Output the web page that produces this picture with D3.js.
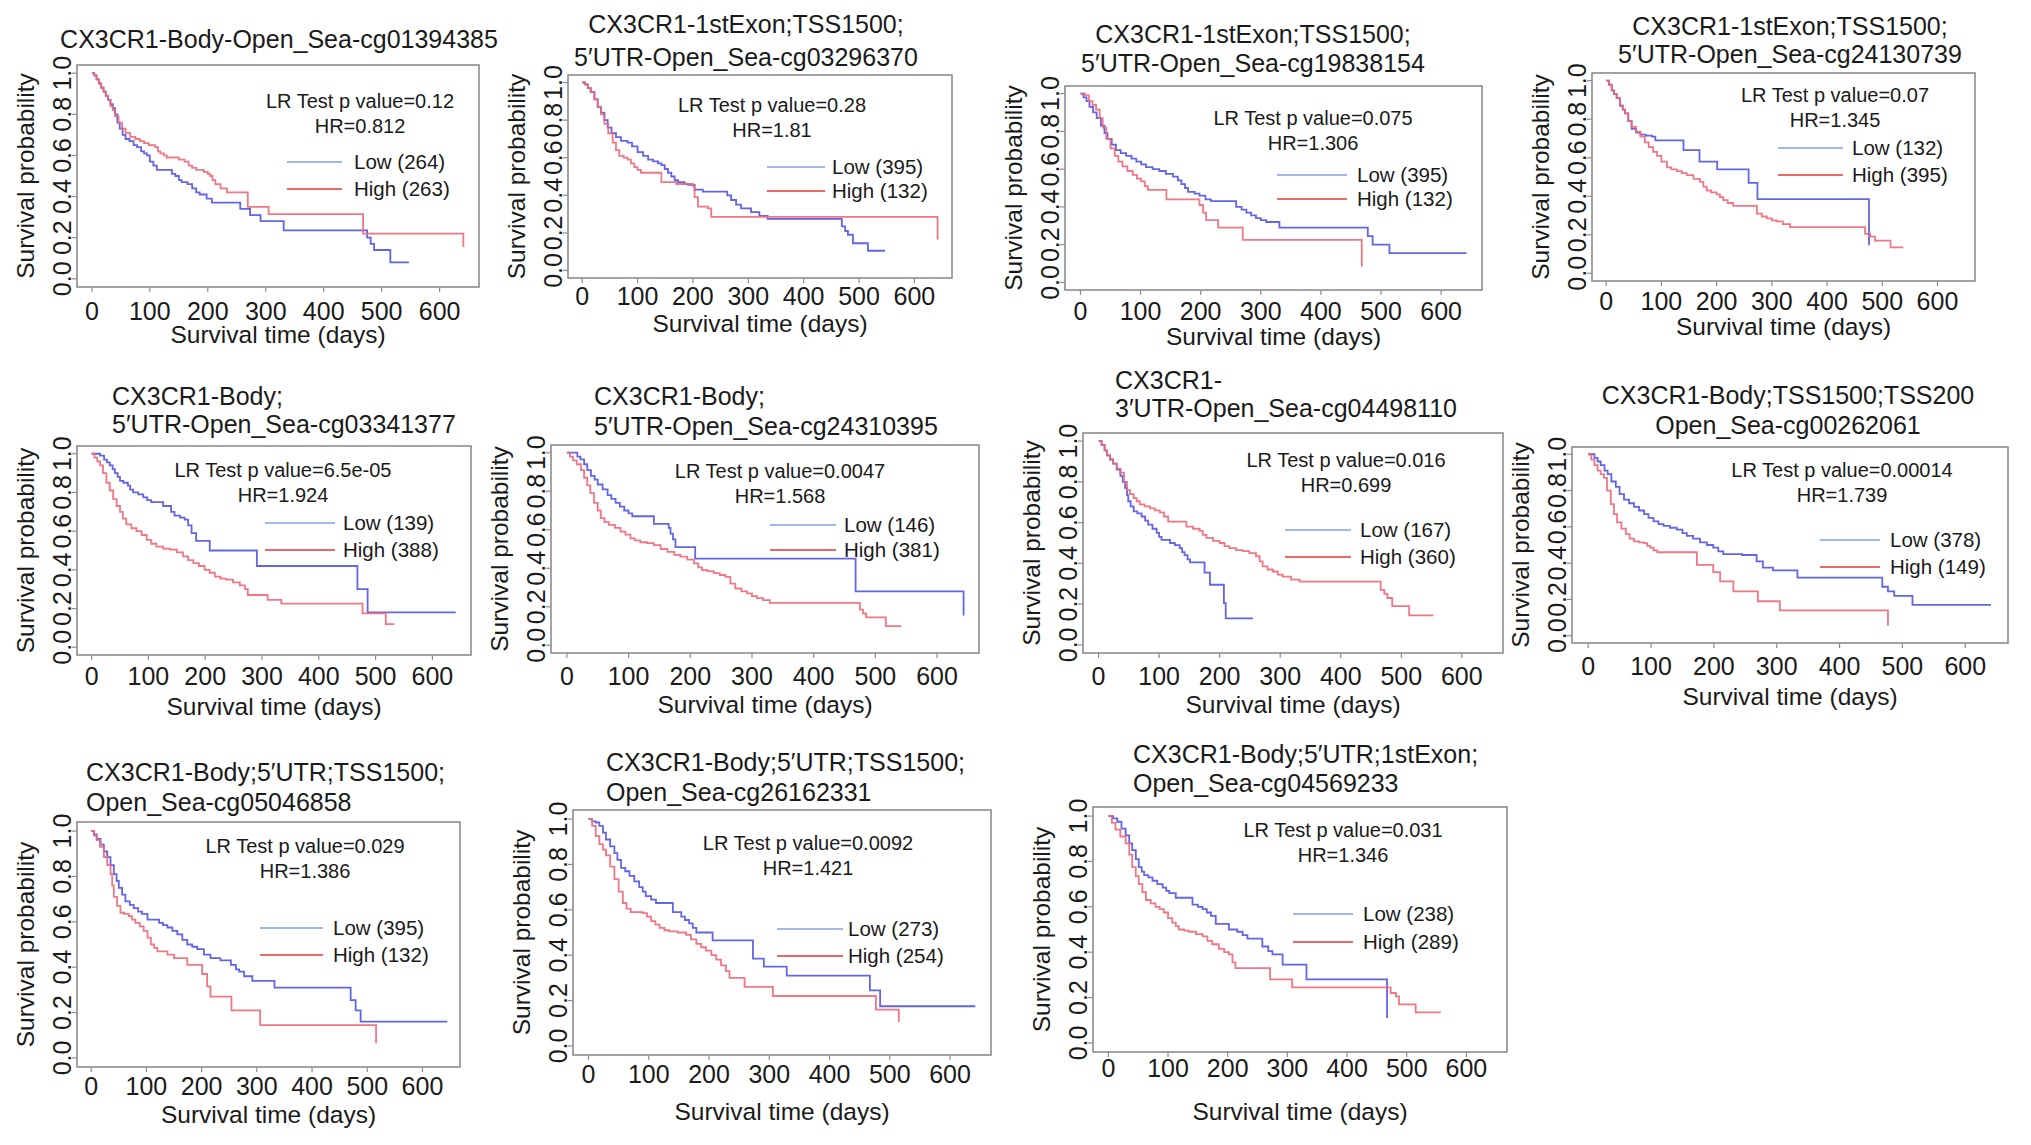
<!DOCTYPE html>
<html>
<head>
    <meta charset="utf-8">
    <title>CX3CR1 CpG survival curves</title>
    <style>
        body {
            margin: 0;
            background: #fff;
        }

        svg {
            display: block;
            font-family: "Liberation Sans", Arial, sans-serif;
            fill: #1a1a1a;
        }

        .frame {
            fill: none;
            stroke: #8c8c8c;
            stroke-width: 1.6px;
        }

        .tickmark {
            stroke: #8c8c8c;
            stroke-width: 1.2px;
        }

        .km {
            fill: none;
            stroke-width: 1.8px;
        }
    </style>
</head>
<body>
    <script src="https://d3js.org/d3.v7.min.js"></script>
    <script>
        var width = 2031;
        var height = 1145;

        // ---- data ----
        var titles = [
            ["CX3CR1-Body-Open_Sea-cg01394385"],
            ["CX3CR1-1stExon;TSS1500;", "5\u2032UTR-Open_Sea-cg03296370"],
            ["CX3CR1-1stExon;TSS1500;", "5\u2032UTR-Open_Sea-cg19838154"],
            ["CX3CR1-1stExon;TSS1500;", "5\u2032UTR-Open_Sea-cg24130739"],
            ["CX3CR1-Body;", "5\u2032UTR-Open_Sea-cg03341377"],
            ["CX3CR1-Body;", "5\u2032UTR-Open_Sea-cg24310395"],
            ["CX3CR1-", "3\u2032UTR-Open_Sea-cg04498110"],
            ["CX3CR1-Body;TSS1500;TSS200", "Open_Sea-cg00262061"],
            ["CX3CR1-Body;5\u2032UTR;TSS1500;", "Open_Sea-cg05046858"],
            ["CX3CR1-Body;5\u2032UTR;TSS1500;", "Open_Sea-cg26162331"],
            ["CX3CR1-Body;5\u2032UTR;1stExon;", "Open_Sea-cg04569233"]
        ];
        var pValues = ["0.12", "0.28", "0.075", "0.07", "6.5e-05", "0.0047", "0.016", "0.00014", "0.029", "0.0092", "0.031"];
        var hrValues = ["0.812", "1.81", "1.306", "1.345", "1.924", "1.568", "0.699", "1.739", "1.386", "1.421", "1.346"];
        var lowCounts = [264, 395, 395, 132, 139, 146, 167, 378, 395, 273, 238];
        var highCounts = [263, 132, 132, 395, 388, 381, 360, 149, 132, 254, 289];

        var xTicks = [0, 100, 200, 300, 400, 500, 600];
        var yTicks = [0, 0.2, 0.4, 0.6, 0.8, 1.0];

        // Kaplan-Meier step points [day, survival], one list per panel
        var lowCurves = [
            [[0,1],[4,0.99],[8,0.97],[12,0.95],[16,0.93],[20,0.91],[24,0.89],[28,0.87],[32,0.85],[36,0.83],[40,0.80],[44,0.76],[48,0.73],[53,0.70],[58,0.68],[65,0.67],[72,0.65],[78,0.64],[85,0.62],[90,0.61],[95,0.60],[100,0.57],[106,0.55],[112,0.53],[138,0.51],[144,0.50],[150,0.48],[155,0.47],[165,0.46],[173,0.44],[180,0.42],[186,0.41],[198,0.39],[207,0.37],[256,0.34],[273,0.31],[291,0.28],[331,0.235],[475,0.20],[481,0.17],[487,0.14],[515,0.08],[547,0.08]],
            [[0,1],[5,0.99],[10,0.97],[15,0.95],[22,0.91],[28,0.87],[34,0.84],[40,0.80],[46,0.76],[53,0.73],[61,0.71],[70,0.69],[82,0.68],[90,0.66],[100,0.63],[110,0.61],[119,0.59],[128,0.58],[137,0.57],[143,0.56],[149,0.54],[155,0.52],[161,0.50],[167,0.48],[173,0.47],[185,0.46],[191,0.455],[203,0.43],[218,0.42],[262,0.40],[269,0.375],[278,0.35],[287,0.33],[305,0.31],[320,0.29],[335,0.275],[469,0.235],[475,0.21],[480,0.19],[489,0.145],[516,0.105],[547,0.105]],
            [[0,1],[5,0.98],[10,0.96],[15,0.93],[21,0.90],[27,0.87],[34,0.83],[40,0.79],[45,0.76],[52,0.73],[59,0.70],[67,0.685],[76,0.67],[85,0.655],[93,0.64],[101,0.625],[109,0.61],[120,0.60],[131,0.59],[142,0.575],[154,0.56],[162,0.54],[168,0.52],[174,0.50],[179,0.48],[190,0.47],[198,0.46],[208,0.44],[217,0.43],[259,0.40],[268,0.385],[276,0.37],[284,0.355],[292,0.34],[300,0.33],[309,0.32],[331,0.29],[478,0.245],[486,0.20],[514,0.155],[642,0.155]],
            [[0,1],[5,0.98],[10,0.95],[14,0.93],[19,0.91],[25,0.87],[30,0.85],[34,0.83],[40,0.79],[46,0.75],[54,0.73],[62,0.72],[72,0.715],[83,0.71],[89,0.69],[140,0.64],[169,0.58],[201,0.54],[258,0.47],[274,0.385],[475,0.385],[476,0.145]],
            [[0,1],[10,1.0],[15,0.99],[22,0.97],[27,0.955],[32,0.94],[37,0.92],[41,0.90],[46,0.88],[50,0.86],[56,0.85],[64,0.835],[68,0.815],[73,0.80],[82,0.79],[91,0.775],[98,0.76],[105,0.75],[126,0.73],[140,0.70],[146,0.68],[156,0.67],[164,0.66],[170,0.63],[176,0.59],[184,0.55],[208,0.50],[291,0.42],[468,0.30],[486,0.18],[641,0.18]],
            [[0,1],[10,1.0],[17,0.98],[22,0.965],[28,0.94],[33,0.91],[39,0.88],[45,0.86],[50,0.835],[58,0.81],[66,0.78],[72,0.76],[79,0.74],[86,0.72],[93,0.70],[100,0.685],[106,0.67],[141,0.63],[165,0.61],[168,0.58],[172,0.55],[176,0.51],[208,0.45],[468,0.28],[642,0.28],[643,0.155]],
            [[0,1],[5,0.98],[10,0.955],[14,0.93],[19,0.91],[24,0.89],[30,0.86],[36,0.83],[40,0.80],[44,0.77],[47,0.735],[49,0.705],[53,0.68],[58,0.655],[64,0.645],[71,0.63],[77,0.61],[82,0.59],[89,0.57],[96,0.55],[100,0.53],[104,0.515],[118,0.50],[126,0.49],[134,0.475],[138,0.455],[142,0.44],[147,0.42],[151,0.405],[175,0.355],[184,0.295],[207,0.205],[210,0.13],[255,0.13]],
            [[0,1],[5,1.0],[10,0.98],[15,0.96],[20,0.94],[26,0.91],[31,0.89],[37,0.85],[44,0.82],[50,0.78],[57,0.75],[65,0.73],[73,0.71],[81,0.69],[89,0.67],[96,0.65],[104,0.63],[112,0.615],[120,0.605],[130,0.595],[141,0.585],[150,0.565],[157,0.55],[167,0.535],[178,0.515],[189,0.50],[199,0.485],[207,0.465],[215,0.45],[245,0.445],[268,0.41],[278,0.375],[294,0.36],[333,0.32],[468,0.27],[477,0.245],[487,0.22],[516,0.17],[641,0.17]],
            [[0,1],[5,0.985],[10,0.965],[17,0.94],[23,0.91],[29,0.885],[35,0.85],[41,0.81],[46,0.78],[50,0.75],[56,0.72],[62,0.69],[70,0.675],[77,0.66],[85,0.645],[92,0.635],[102,0.61],[123,0.595],[130,0.585],[138,0.575],[147,0.56],[156,0.545],[165,0.52],[174,0.50],[183,0.49],[192,0.48],[204,0.455],[216,0.44],[234,0.43],[253,0.41],[262,0.39],[268,0.38],[277,0.36],[292,0.34],[332,0.31],[470,0.255],[479,0.21],[488,0.16],[645,0.16]],
            [[0,1],[6,0.99],[12,0.985],[18,0.97],[24,0.94],[29,0.91],[36,0.88],[43,0.85],[48,0.82],[54,0.785],[61,0.77],[68,0.75],[76,0.725],[84,0.70],[90,0.68],[95,0.66],[104,0.645],[112,0.63],[140,0.59],[154,0.57],[160,0.555],[167,0.54],[173,0.52],[179,0.50],[206,0.465],[273,0.385],[291,0.35],[329,0.31],[467,0.245],[484,0.175],[642,0.175]],
            [[0,1],[8,0.99],[15,0.975],[22,0.945],[29,0.915],[35,0.88],[40,0.85],[46,0.81],[51,0.775],[56,0.755],[60,0.74],[67,0.73],[74,0.715],[82,0.70],[91,0.685],[97,0.67],[102,0.66],[113,0.64],[141,0.61],[150,0.60],[158,0.59],[165,0.575],[172,0.56],[180,0.525],[202,0.50],[216,0.49],[225,0.475],[233,0.46],[258,0.425],[268,0.405],[275,0.39],[292,0.345],[332,0.28],[466,0.28],[467,0.11]]
        ];

        var highCurves = [
            [[0,1],[4,0.99],[8,0.97],[12,0.95],[16,0.93],[20,0.91],[24,0.89],[28,0.87],[32,0.84],[36,0.82],[40,0.79],[46,0.76],[52,0.73],[58,0.71],[66,0.69],[75,0.68],[83,0.67],[90,0.66],[98,0.65],[109,0.64],[114,0.62],[118,0.61],[124,0.60],[129,0.59],[150,0.58],[160,0.57],[167,0.55],[173,0.54],[180,0.53],[193,0.52],[200,0.51],[204,0.50],[208,0.48],[213,0.46],[222,0.44],[233,0.42],[269,0.35],[305,0.315],[468,0.22],[640,0.22],[641,0.155]],
            [[0,1],[5,0.99],[10,0.97],[16,0.95],[22,0.91],[28,0.87],[34,0.83],[40,0.78],[47,0.73],[55,0.68],[61,0.64],[67,0.61],[75,0.60],[82,0.59],[88,0.57],[94,0.55],[100,0.535],[106,0.52],[143,0.47],[170,0.46],[200,0.45],[203,0.39],[209,0.34],[227,0.33],[233,0.285],[641,0.285],[642,0.165]],
            [[0,1],[8,0.99],[14,0.96],[20,0.94],[26,0.915],[32,0.87],[37,0.82],[43,0.76],[50,0.71],[57,0.67],[63,0.64],[70,0.615],[78,0.59],[87,0.57],[94,0.55],[101,0.535],[107,0.51],[112,0.49],[143,0.44],[198,0.41],[204,0.37],[209,0.33],[229,0.29],[270,0.225],[467,0.225],[468,0.085]],
            [[0,1],[5,0.98],[10,0.95],[14,0.93],[19,0.91],[25,0.87],[30,0.85],[34,0.83],[40,0.79],[46,0.76],[54,0.735],[62,0.71],[70,0.68],[77,0.655],[85,0.63],[92,0.61],[100,0.58],[110,0.55],[118,0.54],[128,0.53],[137,0.52],[146,0.51],[158,0.49],[170,0.475],[176,0.45],[182,0.43],[190,0.42],[200,0.41],[206,0.395],[212,0.38],[220,0.365],[230,0.35],[273,0.31],[282,0.295],[291,0.285],[300,0.275],[309,0.27],[320,0.255],[333,0.24],[469,0.205],[478,0.19],[487,0.17],[515,0.135],[538,0.135]],
            [[0,1],[5,0.98],[10,0.96],[15,0.94],[20,0.90],[26,0.85],[32,0.81],[38,0.765],[44,0.73],[50,0.70],[55,0.665],[61,0.635],[70,0.615],[79,0.60],[88,0.58],[97,0.555],[105,0.535],[114,0.52],[126,0.51],[138,0.505],[150,0.49],[161,0.47],[170,0.45],[179,0.435],[189,0.42],[199,0.40],[208,0.385],[217,0.365],[227,0.355],[237,0.35],[249,0.335],[261,0.32],[270,0.30],[275,0.27],[310,0.245],[334,0.225],[477,0.175],[518,0.12],[533,0.12]],
            [[0,1],[5,0.98],[10,0.96],[16,0.94],[23,0.91],[28,0.87],[33,0.83],[38,0.79],[44,0.74],[50,0.70],[55,0.66],[61,0.64],[68,0.625],[78,0.61],[87,0.59],[95,0.575],[103,0.555],[110,0.545],[119,0.535],[130,0.53],[141,0.52],[152,0.50],[163,0.485],[174,0.47],[184,0.46],[195,0.445],[206,0.425],[213,0.405],[219,0.39],[228,0.385],[238,0.375],[248,0.365],[257,0.355],[265,0.32],[273,0.295],[283,0.28],[292,0.27],[300,0.255],[308,0.245],[318,0.235],[329,0.22],[475,0.185],[480,0.165],[485,0.145],[517,0.10],[542,0.10]],
            [[0,1],[5,0.98],[10,0.955],[14,0.93],[19,0.91],[24,0.89],[30,0.865],[36,0.845],[42,0.80],[47,0.76],[52,0.74],[58,0.72],[63,0.705],[68,0.69],[76,0.68],[85,0.67],[93,0.66],[101,0.65],[108,0.63],[115,0.605],[145,0.58],[156,0.57],[167,0.56],[172,0.54],[178,0.525],[189,0.51],[200,0.50],[208,0.485],[216,0.475],[227,0.465],[238,0.46],[249,0.45],[260,0.435],[266,0.41],[271,0.385],[279,0.37],[288,0.36],[296,0.345],[304,0.335],[318,0.32],[332,0.31],[466,0.27],[472,0.25],[477,0.23],[485,0.19],[513,0.145],[553,0.145]],
            [[0,1],[5,0.97],[10,0.94],[15,0.91],[20,0.89],[25,0.87],[30,0.80],[36,0.725],[41,0.67],[46,0.625],[53,0.59],[60,0.56],[66,0.535],[73,0.52],[81,0.515],[89,0.51],[94,0.495],[99,0.485],[104,0.47],[110,0.46],[173,0.39],[199,0.35],[210,0.30],[231,0.245],[270,0.19],[305,0.14],[476,0.14],[477,0.055]],
            [[0,1],[5,0.98],[10,0.96],[16,0.93],[23,0.885],[29,0.85],[35,0.81],[38,0.76],[41,0.71],[47,0.67],[53,0.64],[60,0.635],[68,0.625],[74,0.61],[80,0.595],[88,0.58],[95,0.56],[102,0.53],[108,0.50],[114,0.485],[120,0.47],[138,0.455],[150,0.44],[174,0.41],[201,0.37],[210,0.315],[216,0.27],[254,0.21],[306,0.145],[515,0.145],[516,0.065]],
            [[0,1],[6,0.97],[12,0.925],[18,0.89],[24,0.865],[29,0.84],[36,0.79],[43,0.735],[50,0.68],[57,0.63],[63,0.605],[70,0.59],[80,0.59],[90,0.585],[97,0.57],[104,0.55],[111,0.535],[118,0.52],[126,0.51],[134,0.505],[148,0.50],[162,0.49],[170,0.47],[179,0.45],[187,0.435],[195,0.42],[204,0.40],[212,0.38],[220,0.355],[228,0.33],[234,0.30],[259,0.26],[306,0.22],[477,0.16],[514,0.16],[515,0.105]],
            [[0,1],[6,0.97],[12,0.94],[20,0.91],[29,0.88],[35,0.83],[40,0.775],[46,0.735],[51,0.70],[57,0.665],[63,0.63],[71,0.615],[79,0.60],[86,0.59],[93,0.575],[100,0.55],[107,0.53],[113,0.515],[118,0.50],[127,0.495],[135,0.49],[147,0.48],[158,0.47],[166,0.45],[174,0.435],[185,0.415],[194,0.40],[202,0.39],[208,0.355],[213,0.33],[271,0.28],[308,0.245],[473,0.22],[482,0.205],[487,0.17],[515,0.135],[557,0.135]]
        ];

        // ---- layout of the 11 panels (pixels) ----
        // plot box: [left, top, right, bottom]
        var frames = [
            [77, 65, 479, 287], [568, 75, 952, 278], [1065, 86, 1482, 290], [1592, 73, 1975, 281],
            [77, 446, 471, 655], [551, 445, 979, 653], [1083, 433, 1503, 653], [1572, 447, 2008, 643],
            [77, 822, 460, 1067], [573, 810, 991, 1055], [1093, 807, 1507, 1052]
        ];
        // title: x, anchor, baseline of each line
        var titleSpots = [
            [279, "middle", [48]], [746, "middle", [33, 66]], [1253, "middle", [43, 72]], [1790, "middle", [35, 63]],
            [112, "start", [405, 433]], [594, "start", [405, 435]], [1115, "start", [389, 417]], [1788, "middle", [404, 434]],
            [86, "start", [781, 811]], [606, "start", [771, 801]], [1133, "start", [763, 792]]
        ];
        // stats text: centre x, baseline of LR line
        var statSpots = [
            [360, 108], [772, 112], [1313, 125], [1835, 102],
            [283, 477], [780, 478], [1346, 467], [1842, 477],
            [305, 853], [808, 850], [1343, 837]
        ];
        // legend: line x0, line x1, y low, y high, text x
        var legendSpots = [
            [287, 342, 162, 189, 354], [767, 825, 167, 191, 832], [1277, 1347, 175, 199, 1357], [1778, 1843, 148, 175, 1852],
            [265, 335, 523, 550, 343], [770, 836, 525, 550, 844], [1285, 1351, 530, 557, 1360], [1820, 1880, 540, 567, 1890],
            [260, 323, 928, 955, 333], [777, 843, 929, 956, 848], [1293, 1353, 914, 942, 1363]
        ];
        // distance below the box of tick labels and x-axis title
        var xGaps = [
            [33, 56], [27, 54], [30, 55], [29, 54],
            [30, 60], [32, 60], [32, 60], [32, 62],
            [28, 56], [28, 65], [25, 68]
        ];

        var lowColor = "#6464e6";
        var highColor = "#ee6878";
        var lowLegend = "#a3b6ee";
        var highLegend = "#e66a6a";

        var svg = d3.select("body").append("svg")
            .attr("width", width)
            .attr("height", height);

        var fmtY = d3.format(".1f");

        frames.forEach(function(f, i) {
            var g = svg.append("g");

            // R-style padded ranges (4% each side)
            var x = d3.scaleLinear().domain([-25.7, 668]).range([f[0], f[2]]);
            var y = d3.scaleLinear().domain([-0.04, 1.04]).range([f[3], f[1]]);

            g.append("rect")
                .attr("class", "frame")
                .attr("x", f[0])
                .attr("y", f[1])
                .attr("width", f[2] - f[0])
                .attr("height", f[3] - f[1]);

            // x ticks and labels
            xTicks.forEach(function(t) {
                g.append("line").attr("class", "tickmark")
                    .attr("x1", x(t)).attr("x2", x(t))
                    .attr("y1", f[3]).attr("y2", f[3] + 5);
                g.append("text")
                    .attr("x", x(t))
                    .attr("y", f[3] + xGaps[i][0])
                    .attr("text-anchor", "middle")
                    .style("font-size", "25px")
                    .text(t);
            });

            // y ticks and rotated labels
            yTicks.forEach(function(t) {
                g.append("line").attr("class", "tickmark")
                    .attr("x1", f[0] - 5).attr("x2", f[0])
                    .attr("y1", y(t)).attr("y2", y(t));
                g.append("text")
                    .attr("transform", "translate(" + (f[0] - 6) + "," + y(t) + ") rotate(-90)")
                    .attr("text-anchor", "middle")
                    .style("font-size", "25px")
                    .text(fmtY(t));
            });

            // axis titles
            g.append("text")
                .attr("x", (f[0] + f[2]) / 2)
                .attr("y", f[3] + xGaps[i][1])
                .attr("text-anchor", "middle")
                .style("font-size", "24.5px")
                .text("Survival time (days)");

            g.append("text")
                .attr("transform", "translate(" + (f[0] - 43) + "," + y(0.5) + ") rotate(-90)")
                .attr("text-anchor", "middle")
                .style("font-size", "24.5px")
                .text("Survival probability");

            // panel title
            var ts = titleSpots[i];
            titles[i].forEach(function(line, k) {
                g.append("text")
                    .attr("x", ts[0])
                    .attr("y", ts[2][k])
                    .attr("text-anchor", ts[1])
                    .style("font-size", "25px")
                    .text(line);
            });

            // survival curves
            var line = d3.line()
                .x(function(d) { return x(d[0]); })
                .y(function(d) { return y(d[1]); })
                .curve(d3.curveStepAfter);

            g.append("path")
                .attr("class", "km")
                .attr("d", line(lowCurves[i]))
                .style("stroke", lowColor);

            g.append("path")
                .attr("class", "km")
                .attr("d", line(highCurves[i]))
                .style("stroke", highColor)
                .style("opacity", 0.9);

            // test statistics
            var ss = statSpots[i];
            g.append("text")
                .attr("x", ss[0]).attr("y", ss[1])
                .attr("text-anchor", "middle")
                .style("font-size", "20px")
                .text("LR Test p value=" + pValues[i]);
            g.append("text")
                .attr("x", ss[0]).attr("y", ss[1] + 25)
                .attr("text-anchor", "middle")
                .style("font-size", "20px")
                .text("HR=" + hrValues[i]);

            // legend
            var ls = legendSpots[i];
            var entries = [
                { label: "Low (" + lowCounts[i] + ")", y: ls[2], color: lowLegend },
                { label: "High (" + highCounts[i] + ")", y: ls[3], color: highLegend }
            ];
            entries.forEach(function(e) {
                g.append("line")
                    .attr("x1", ls[0]).attr("x2", ls[1])
                    .attr("y1", e.y).attr("y2", e.y)
                    .style("stroke", e.color)
                    .style("stroke-width", 2);
                g.append("text")
                    .attr("x", ls[4]).attr("y", e.y + 7)
                    .style("font-size", "20.5px")
                    .text(e.label);
            });
        });
    </script>
</body>
</html>
